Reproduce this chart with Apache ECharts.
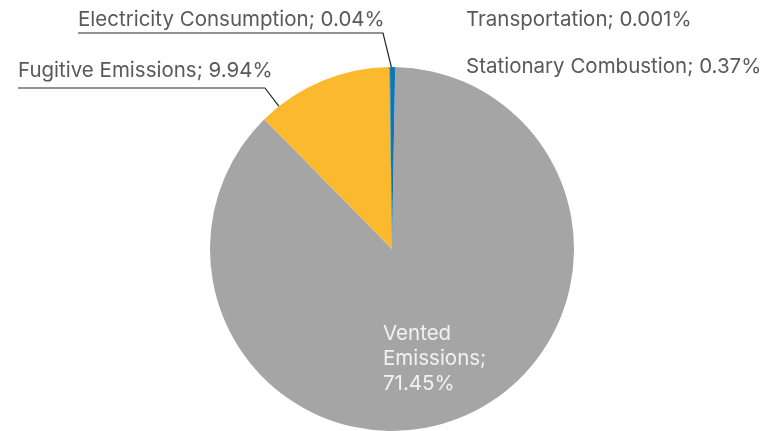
<!DOCTYPE html>
<html>
<head>
<meta charset="utf-8">
<script src="https://cdn.jsdelivr.net/npm/echarts@6/dist/echarts.min.js"></script>
<style>
  html, body { margin: 0; padding: 0; background: #fff; }
  #chart { width: 771px; height: 431px; }
</style>
</head>
<body>
<div id="chart"></div>
<script>
// categories and shares (%)
var categories = ['Vented Emissions', 'Fugitive Emissions', 'Electricity Consumption', 'Stationary Combustion', 'Transportation'];
var shares = [71.45, 9.94, 0.04, 0.37, 0.001];
var colors = ['#A5A5A5', '#FBBA2D', '#0F76B6', '#0F76B6', '#E97132'];

(function () {
    var myChart = echarts.init(document.getElementById('chart'));
    var cx = 392, cy = 249, r = 182;

    // edge point of the pie at a clock angle (deg, clockwise from 12 o'clock)
    function edge(deg) {
        var a = deg * Math.PI / 180;
        return [cx + r * Math.sin(a), cy - r * Math.cos(a)];
    }

    // where each label sits (Excel put them by hand)
    var labelSpot = [
        { x: 383, y: 359, align: 'left' },
        { x: 18, y: 71, align: 'left', line: [edge(-38.4), [265, 88], [18, 88]] },
        { x: 78, y: 20, align: 'left', line: [edge(-0.2), [383, 33], [78, 33]] },
        { x: 466, y: 67, align: 'left' },
        { x: 466, y: 20, align: 'left' }
    ];

    var data = categories.map(function (name, i) {
        return {
            name: name,
            value: shares[i],
            itemStyle: { color: colors[i] },
            labelLine: { show: !!labelSpot[i].line }
        };
    });

    option = {
        animation: false,
        series: [{
            type: 'pie',
            center: [cx, cy],
            radius: r,
            startAngle: 89,
            clockwise: true,
            avoidLabelOverlap: false,
            itemStyle: { borderWidth: 0 },
            label: {
                show: true,
                position: 'outside',
                fontFamily: 'Inter',
                fontSize: 20.5,
                color: '#595959',
                lineHeight: 25,
                formatter: function (p) {
                    if (p.dataIndex === 0) {
                        return '{w|' + p.name.replace(' ', '\n') + ';\n' + p.value + '%}';
                    }
                    return p.name + '; ' + p.value + '%';
                },
                rich: {
                    w: { color: '#F2F2F2', fontFamily: 'Inter', fontSize: 20.5, lineHeight: 25 }
                }
            },
            labelLine: {
                lineStyle: { color: '#262626', width: 1.2 }
            },
            labelLayout: function (p) {
                var s = labelSpot[p.dataIndex];
                var res = { x: s.x, y: s.y, align: s.align, verticalAlign: 'middle' };
                if (s.line) res.labelLinePoints = s.line;
                return res;
            },
            data: data
        }]
    };

    myChart.setOption(option);
    window.addEventListener('resize', function () {
        myChart.resize();
    });
})();
</script>
</body>
</html>
